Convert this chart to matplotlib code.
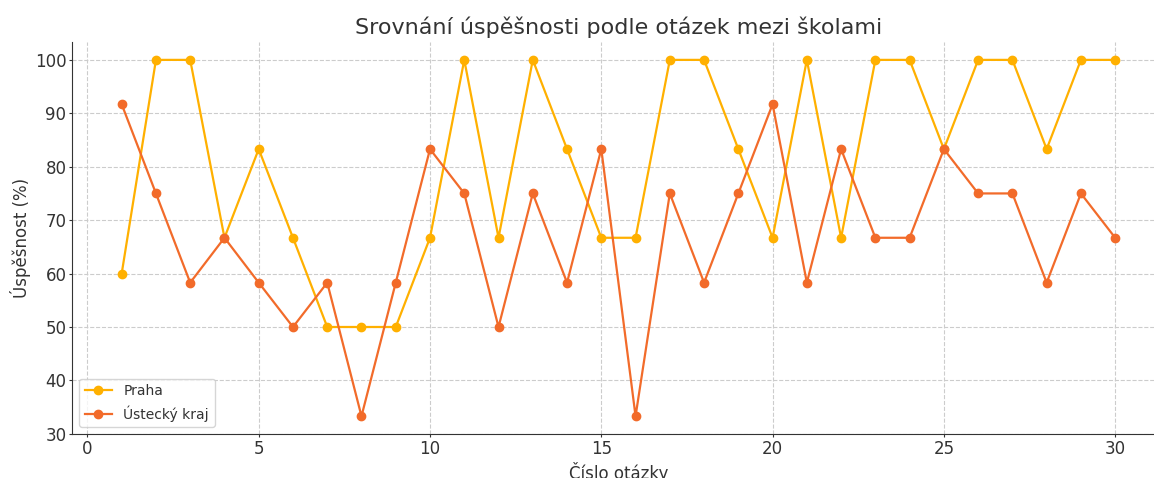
import matplotlib.pyplot as plt

otazky = list(range(1, 31))
praha = [60, 100, 100, 66.7, 83.3, 66.7, 50, 50, 50, 66.7,
         100, 66.7, 100, 83.3, 66.7, 66.7, 100, 100, 83.3, 66.7,
         100, 66.7, 100, 100, 83.3, 100, 100, 83.3, 100, 100]
ustecky = [91.7, 75, 58.3, 66.7, 58.3, 50, 58.3, 33.3, 58.3, 83.3,
           75, 50, 75, 58.3, 83.3, 33.3, 75, 58.3, 75, 91.7,
           58.3, 83.3, 66.7, 66.7, 83.3, 75, 75, 58.3, 75, 66.7]

plt.rcParams['text.color'] = '#333333'
plt.rcParams['axes.labelcolor'] = '#333333'
plt.rcParams['xtick.color'] = '#333333'
plt.rcParams['ytick.color'] = '#333333'

fig = plt.figure(figsize=(11.54, 4.78), dpi=100)
ax = fig.add_axes([0.0624, 0.092, 0.947, 0.82])

ax.plot(otazky, praha, marker='o', color='#FFB000', label='Praha', markersize=6, linewidth=1.6)
ax.plot(otazky, ustecky, marker='o', color='#F26B2A', label='Ústecký kraj', markersize=6, linewidth=1.6)

ax.set_title('Srovnání úspěšnosti podle otázek mezi školami', fontsize=16, pad=6)
ax.set_xlabel('Číslo otázky', fontsize=12, labelpad=3)
ax.set_ylabel('Úspěšnost (%)', fontsize=12, labelpad=3)
ax.tick_params(labelsize=12, length=2.5, pad=1.5)
ax.grid(True, linestyle='--', color='#cccccc', linewidth=0.8)
ax.spines['top'].set_visible(False)
ax.spines['right'].set_visible(False)
ax.spines['left'].set_color('#333333')
ax.spines['bottom'].set_color('#333333')
ax.legend(loc='lower left', fontsize=10)

fig.savefig('out.png', dpi=100)
